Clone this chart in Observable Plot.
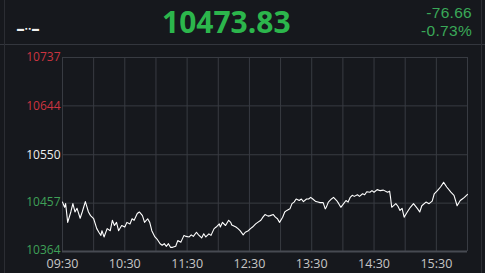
<!DOCTYPE html>
<html>
<head>
<meta charset="utf-8">
<script src="https://cdn.jsdelivr.net/npm/d3@7"></script>
<script src="https://cdn.jsdelivr.net/npm/@observablehq/plot@0.6"></script>
<style>
  html, body { margin: 0; padding: 0; background: #16181d; }
  #wrap { position: relative; width: 485px; height: 273px; background: #16181d; overflow: hidden; font-family: "Open Sans", "Noto Sans", sans-serif; }
  #header { position: relative; height: 45px; }
  #price { position: absolute; left: 162px; top: 1px; font-size: 30px; font-weight: 700; color: #2cb64c; }
  .chg { position: absolute; right: 13px; text-align: right; font-family: "Liberation Sans", Arial, sans-serif; font-size: 15.5px; line-height: 17px; height: 17px; letter-spacing: 0.3px; color: #3aa858; }
  #name { position: absolute; left: 17px; top: 24px; font-size: 7px; color: #f0f0f0; letter-spacing: 1px; }
  .ln { position: absolute; background: #33363d; }
  #chart { position: absolute; left: 0; top: 45px; }
</style>
</head>
<body>
<div id="wrap">
  <div id="header">
    <div id="name">▬▪▪▬</div>
    <div id="price"></div>
    <div id="chg1" class="chg" style="top:4px"></div>
    <div id="chg2" class="chg" style="top:22px"></div>
  </div>
  <div class="ln" style="left:0;top:44px;width:485px;height:1px;"></div>
  <div class="ln" style="left:4px;top:0;width:1px;height:273px;background:#2b2d33"></div>
  <div class="ln" style="left:481px;top:0;width:1px;height:273px;background:#2b2d33"></div>
  <div id="chart"></div>
</div>
<script>
const lastPrice = 10473.83;
const change = "-76.66";
const changePct = "-0.73%";

const yTicks = [10364, 10457, 10550, 10644, 10737];
const redTicks = [10644, 10737];
const whiteTicks = [10550];
const greenTicks = [10364, 10457];
const xLabels = ["09:30", "10:30", "11:30", "12:30", "13:30", "14:30", "15:30"];

const times = ["09:30","09:32","09:33","09:35","09:38","09:40","09:42","09:44","09:47","09:49","09:52","09:55","09:57","10:00","10:03","10:05","10:07","10:08","10:10","10:13","10:16","10:18","10:20","10:22","10:24","10:27","10:30","10:32","10:35","10:37","10:39","10:42","10:44","10:47","10:49","10:52","10:54","10:56","10:59","11:01","11:04","11:06","11:08","11:10","11:12","11:14","11:16","11:19","11:21","11:24","11:27","11:29","11:32","11:34","11:36","11:39","11:41","11:44","11:46","11:48","11:51","11:53","11:56","11:58","12:01","12:02","12:04","12:07","12:10","12:12","12:13","12:17","12:19","12:21","12:24","12:26","12:29","12:31","12:33","12:36","12:38","12:41","12:43","12:45","12:48","12:50","12:53","12:55","12:57","12:59","13:02","13:04","13:06","13:09","13:11","13:13","13:15","13:18","13:20","13:22","13:25","13:27","13:29","13:31","13:34","13:36","13:38","13:41","13:43","13:44","13:46","13:49","13:51","13:54","13:56","13:58","14:00","14:03","14:05","14:07","14:09","14:11","14:14","14:16","14:19","14:21","14:23","14:26","14:28","14:30","14:33","14:36","14:39","14:43","14:45","14:46","14:47","14:51","14:53","14:55","14:57","14:59","15:02","15:05","15:08","15:12","15:14","15:16","15:20","15:23","15:26","15:28","15:31","15:34","15:37","15:40","15:44","15:47","15:50","15:53","15:55","15:57","16:00"];
const values = [10459,10449,10456,10420,10440,10456,10440,10447,10428,10440,10460,10440,10433,10427,10408,10401,10395,10404,10392,10408,10404,10424,10414,10420,10404,10414,10411,10420,10417,10427,10424,10437,10440,10433,10420,10427,10420,10404,10392,10388,10379,10376,10379,10374,10379,10372,10372,10374,10385,10382,10395,10393,10392,10396,10393,10401,10396,10390,10398,10392,10398,10395,10408,10411,10417,10411,10420,10414,10424,10420,10415,10411,10408,10404,10396,10401,10404,10408,10411,10417,10420,10424,10430,10435,10432,10433,10435,10430,10427,10420,10430,10440,10443,10446,10456,10459,10465,10462,10465,10460,10465,10465,10468,10465,10460,10459,10458,10458,10446,10449,10459,10465,10468,10462,10456,10449,10454,10462,10459,10468,10472,10470,10473,10470,10475,10473,10479,10478,10481,10478,10483,10481,10482,10478,10480,10466,10449,10456,10451,10443,10447,10430,10440,10449,10456,10446,10440,10452,10459,10456,10461,10475,10481,10488,10497,10488,10478,10472,10452,10462,10465,10468,10473.83];

const toMin = s => { const [h, m] = s.split(":").map(Number); return (h * 60 + m) - (9 * 60 + 30); };
const data = times.map((t, i) => ({ m: toMin(t), v: values[i] }));
const gridMinutes = d3.range(0, 391, 30);

document.getElementById("price").textContent = lastPrice.toFixed(2);
document.getElementById("chg1").textContent = change;
document.getElementById("chg2").textContent = changePct;

const font = { fontFamily: "'Open Sans', 'Noto Sans', sans-serif" };
const ySize = 12;
const chart = Plot.plot({
  width: 485,
  height: 228,
  marginLeft: 62,
  marginRight: 18,
  marginTop: 12,
  marginBottom: 22,
  style: { background: "transparent", ...font, overflow: "visible" },
  x: { domain: [0, 390], axis: null },
  y: { domain: [10364, 10737], axis: null },
  marks: [
    Plot.ruleX(gridMinutes, { x: d => d, stroke: "#383b42", strokeWidth: 1 }),
    Plot.ruleY(yTicks.slice(1), { y: d => d, stroke: "#383b42", strokeWidth: 1 }),
    Plot.ruleY([yTicks[0]], { y: d => d, stroke: "#474a52", strokeWidth: 2 }),
    Plot.line(data, { x: "m", y: "v", stroke: "#ffffff", strokeWidth: 1.1 }),
    Plot.text(redTicks, { y: d => d, frameAnchor: "left", textAnchor: "end", dx: -2, text: d => String(d), fill: "#cc3440", fontSize: ySize }),
    Plot.text(whiteTicks, { y: d => d, frameAnchor: "left", textAnchor: "end", dx: -2, text: d => String(d), fill: "#eeeeee", fontSize: ySize }),
    Plot.text(greenTicks, { y: d => d, frameAnchor: "left", textAnchor: "end", dx: -2, dy: -1, text: d => String(d), fill: "#3fa058", fontSize: ySize }),
    Plot.text(xLabels, { x: d => toMin(d), frameAnchor: "bottom", lineAnchor: "top", dy: 8, text: d => d, fill: "#c6c6c6", fontSize: 12.5 })
  ]
});
document.getElementById("chart").appendChild(chart);
</script>
</body>
</html>
